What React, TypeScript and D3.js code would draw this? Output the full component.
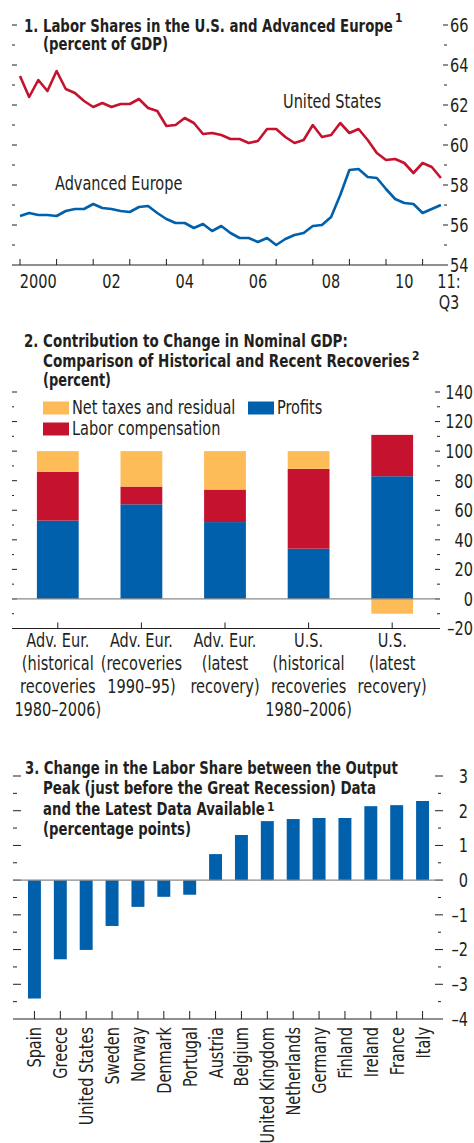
import * as d3 from 'd3'
import { useLayoutEffect, useRef, useState } from 'react'
import type { CSSProperties, ReactNode } from 'react'

const FONT = "'Liberation Sans Narrow', 'Arial Narrow', 'DejaVu Sans Condensed', Roboto, sans-serif"
const SQUEEZE = 0.85

const BLUE = '#0060ab'
const RED = '#c5122f'
const GOLD = '#fdbc57'
const ZERO = '#8a8a8a'
const INK = '#231f20'

// 1. labor shares, quarterly 2000:Q1 – 2011:Q3
const usLaborShare = [
	63.45, 62.4, 63.25, 62.7, 63.7, 62.8, 62.6, 62.2, 61.9, 62.1, 61.9, 62.05,
	62.05, 62.3, 61.85, 61.7, 60.95, 61.0, 61.35, 61.1, 60.55, 60.6, 60.5, 60.3,
	60.3, 60.1, 60.2, 60.8, 60.8, 60.4, 60.1, 60.25, 61.0, 60.4, 60.5, 61.1,
	60.6, 60.8, 60.25, 59.6, 59.25, 59.3, 59.1, 58.6, 59.1, 58.9, 58.35,
]
const europeLaborShare = [
	56.45, 56.6, 56.5, 56.5, 56.45, 56.7, 56.8, 56.8, 57.05, 56.85, 56.8, 56.7,
	56.65, 56.9, 56.95, 56.6, 56.3, 56.1, 56.1, 55.85, 56.05, 55.7, 55.95, 55.6,
	55.35, 55.35, 55.15, 55.35, 55.0, 55.3, 55.5, 55.6, 55.95, 56.0, 56.4, 57.5,
	58.75, 58.8, 58.4, 58.35, 57.8, 57.3, 57.1, 57.05, 56.6, 56.8, 57.0,
]
const firstYear = 2000
const yearLabels = ['2000', '', '02', '', '04', '', '06', '', '08', '', '10']
const shareTicks = [54, 56, 58, 60, 62, 64, 66]

// 2. contribution to change in nominal GDP
const recoveryLabels = [
	['Adv. Eur.', '(historical', 'recoveries', '1980–2006)'],
	['Adv. Eur.', '(recoveries', '1990–95)'],
	['Adv. Eur.', '(latest', 'recovery)'],
	['U.S.', '(historical', 'recoveries', '1980–2006)'],
	['U.S.', '(latest', 'recovery)'],
]
const profits = [53, 64, 52, 34, 83]
const laborCompensation = [33, 12, 22, 54, 28]
const netTaxes = [14, 24, 26, 12, -10]
const contribTicks = [-20, 0, 20, 40, 60, 80, 100, 120, 140]

// 3. change in labor share
const countries = [
	'Spain', 'Greece', 'United States', 'Sweden', 'Norway', 'Denmark', 'Portugal',
	'Austria', 'Belgium', 'United Kingdom', 'Netherlands', 'Germany', 'Finland',
	'Ireland', 'France', 'Italy',
]
const shareChange = [
	-3.41, -2.28, -2.01, -1.32, -0.77, -0.48, -0.42, 0.75, 1.3, 1.7, 1.76, 1.79,
	1.79, 2.13, 2.16, 2.28,
]
const changeTicks = [-4, -3, -2, -1, 0, 1, 2, 3]

const txt: CSSProperties = { fontFamily: FONT, fontSize: 19, fill: INK }
const bold: CSSProperties = { fontFamily: FONT, fontSize: 17.5, fontWeight: 700, fill: INK }

// plain label, squeezed horizontally to look like the condensed original
function Label({
	x,
	y,
	anchor = 'start',
	rotate = false,
	dy,
	children,
}: {
	x: number
	y: number
	anchor?: 'start' | 'middle' | 'end'
	rotate?: boolean
	dy?: string
	children: ReactNode
}) {
	return (
		<text
			transform={`translate(${x},${y})${rotate ? ' rotate(-90)' : ''} scale(${SQUEEZE},1)`}
			textAnchor={anchor}
			dy={dy}
			style={txt}
		>
			{children}
		</text>
	)
}

// title line, measured and squeezed to the width seen in the original
function FitText({ x, y, width, children }: { x: number; y: number; width: number; children: string }) {
	const ref = useRef<SVGTextElement>(null)
	const [k, setK] = useState(SQUEEZE)
	useLayoutEffect(() => {
		const w = ref.current?.getComputedTextLength() ?? 0
		if (w > 0) setK(width / w)
	}, [width, children])
	return (
		<text ref={ref} transform={`translate(${x},${y}) scale(${k},1)`} style={bold}>
			{children}
		</text>
	)
}

type TitleLine = { t: string; x: number; y: number; w: number; sup?: string; supDy?: number }

function Title({ lines }: { lines: TitleLine[] }) {
	return (
		<g>
			{lines.map((l, i) => (
				<g key={i}>
					<FitText x={l.x} y={l.y} width={l.w}>
						{l.t}
					</FitText>
					{l.sup && (
						<text x={l.x + l.w + 2} y={l.y + (l.supDy ?? -8)} style={{ ...bold, fontSize: 12 }}>
							{l.sup}
						</text>
					)}
				</g>
			))}
		</g>
	)
}

function LaborShares() {
	const x = d3.scaleLinear().domain([firstYear, firstYear + 12]).range([20, 459.2])
	const y = d3.scaleLinear().domain([54, 66]).range([265, 25])
	const line = d3
		.line<number>()
		.x((_, i) => x(firstYear + i / 4))
		.y((d) => y(d))

	const minor = d3.range(55, 67)
	const years = d3.range(firstYear, firstYear + 12)

	return (
		<g>
			{minor.map((v) => (
				<g key={v} stroke={INK} strokeWidth={1}>
					<line x1={12} x2={v % 2 === 0 ? 17 : 15} y1={y(v)} y2={y(v)} />
					<line x1={v % 2 === 0 ? 443 : 444} x2={v % 2 === 0 ? 448 : 447} y1={y(v)} y2={y(v)} />
				</g>
			))}
			{shareTicks.map((v) => (
				<Label key={v} x={450} y={y(v)} dy='0.36em'>
					{v}
				</Label>
			))}

			<Title
				lines={[
					{ t: '1. Labor Shares in the U.S. and Advanced Europe', x: 24, y: 32, w: 369, sup: '1', supDy: -10 },
					{ t: '(percent of GDP)', x: 43, y: 50, w: 125 },
				]}
			/>

			<path d={line(usLaborShare) ?? ''} fill='none' stroke={RED} strokeWidth={2.6} strokeLinejoin='round' />
			<path d={line(europeLaborShare) ?? ''} fill='none' stroke={BLUE} strokeWidth={2.6} strokeLinejoin='round' />

			<Label x={283} y={108}>United States</Label>
			<Label x={55} y={190}>Advanced Europe</Label>

			<line x1={12} x2={448} y1={y(54)} y2={y(54)} stroke={INK} strokeWidth={1} />
			{years.map((yr) => (
				<line key={yr} x1={x(yr)} x2={x(yr)} y1={y(54) - 6} y2={y(54)} stroke={INK} strokeWidth={1} />
			))}
			{yearLabels.map((l, i) =>
				l ? (
					<Label key={i} x={x(firstYear + i + 0.5)} y={288} anchor='middle'>
						{l}
					</Label>
				) : null,
			)}
			<Label x={449} y={288} anchor='middle'>11:</Label>
			<Label x={449} y={309} anchor='middle'>Q3</Label>
		</g>
	)
}

function Contributions() {
	const idx = recoveryLabels.map((_, i) => String(i))
	const x = d3.scaleBand().domain(idx).range([16, 434]).paddingInner(0.5).paddingOuter(0.25)
	const y = d3.scaleLinear().domain([-20, 140]).range([628.5, 392])

	const rows = idx.map((k, i) => ({
		key: k,
		profits: profits[i],
		labor: laborCompensation[i],
		taxes: netTaxes[i],
	}))
	const series = d3
		.stack<(typeof rows)[number]>()
		.keys(['profits', 'labor', 'taxes'])
		.offset(d3.stackOffsetDiverging)(rows)
	const colors: Record<string, string> = { profits: BLUE, labor: RED, taxes: GOLD }

	const minor = d3.range(-10, 141, 10)

	return (
		<g>
			<Title
				lines={[
					{ t: '2. Contribution to Change in Nominal GDP:', x: 24, y: 347, w: 324 },
					{ t: 'Comparison of Historical and Recent Recoveries', x: 43, y: 367, w: 367, sup: '2', supDy: -7 },
					{ t: '(percent)', x: 43, y: 386, w: 68 },
				]}
			/>

			{minor.map((v) => (
				<g key={v} stroke={INK} strokeWidth={1}>
					<line x1={12} x2={v % 20 === 0 ? 17 : 14} y1={y(v)} y2={y(v)} />
					<line x1={v % 20 === 0 ? 435 : 437} x2={440} y1={y(v)} y2={y(v)} />
				</g>
			))}
			{contribTicks.map((v) => (
				<Label key={v} x={473} y={y(v)} dy='0.36em' anchor='end'>
					{v < 0 ? `–${-v}` : v}
				</Label>
			))}

			<rect x={43} y={401.5} width={26} height={13} fill={GOLD} />
			<Label x={72} y={413.5}>Net taxes and residual</Label>
			<rect x={248} y={401.5} width={26} height={13} fill={BLUE} />
			<Label x={277} y={413.5}>Profits</Label>
			<rect x={43} y={422.5} width={26} height={13} fill={RED} />
			<Label x={72} y={434.5}>Labor compensation</Label>

			{series.map((s) =>
				s.map((d, i) => (
					<rect
						key={`${s.key}-${i}`}
						x={x(d.data.key)}
						width={x.bandwidth()}
						y={y(Math.max(d[0], d[1]))}
						height={Math.abs(y(d[0]) - y(d[1]))}
						fill={colors[s.key]}
					/>
				)),
			)}

			<line x1={12} x2={440} y1={y(0)} y2={y(0)} stroke={ZERO} strokeWidth={1.2} />
			<line x1={12} x2={440} y1={y(-20)} y2={y(-20)} stroke={INK} strokeWidth={1} />
			{idx.map((k, i) => {
				const cx = x(k)! + x.bandwidth() / 2
				return (
					<g key={k}>
						<line x1={cx} x2={cx} y1={y(-20) - 6} y2={y(-20)} stroke={INK} strokeWidth={1} />
						{recoveryLabels[i].map((t, j) => (
							<Label key={j} x={cx} y={647 + j * 23} anchor='middle'>
								{t}
							</Label>
						))}
					</g>
				)
			})}
		</g>
	)
}

function ShareChange() {
	const x = d3.scaleBand().domain(countries).range([21.5, 435.5]).paddingInner(0.5).paddingOuter(0.25)
	const y = d3.scaleLinear().domain([-4, 3]).range([1019, 776])
	const minor = d3.range(-3.5, 3.01, 0.5)

	return (
		<g>
			<Title
				lines={[
					{ t: '3. Change in the Labor Share between the Output', x: 25, y: 774, w: 373 },
					{ t: 'Peak (just before the Great Recession) Data', x: 43, y: 794, w: 333 },
					{ t: 'and the Latest Data Available', x: 43, y: 815, w: 222, sup: '1', supDy: -4 },
					{ t: '(percentage points)', x: 43, y: 835, w: 148 },
				]}
			/>

			{minor.map((v) => {
				const major = Number.isInteger(v)
				return (
					<g key={v} stroke={INK} strokeWidth={1}>
						<line x1={13} x2={major ? 21 : 17} y1={y(v)} y2={y(v)} />
						<line x1={major ? 435 : 438} x2={major ? 443 : 441} y1={y(v)} y2={y(v)} />
					</g>
				)
			})}
			{changeTicks.map((v) => (
				<Label key={v} x={468} y={y(v)} dy='0.36em' anchor='end'>
					{v < 0 ? `–${-v}` : v}
				</Label>
			))}

			{countries.map((c, i) => {
				const v = shareChange[i]
				return (
					<rect
						key={c}
						x={x(c)}
						width={x.bandwidth()}
						y={y(Math.max(0, v))}
						height={Math.abs(y(v) - y(0))}
						fill={BLUE}
					/>
				)
			})}

			<line x1={13} x2={443} y1={y(0)} y2={y(0)} stroke={ZERO} strokeWidth={1.2} />
			<line x1={13} x2={443} y1={y(-4)} y2={y(-4)} stroke={INK} strokeWidth={1} />
			{countries.map((c) => {
				const cx = x(c)! + x.bandwidth() / 2
				return (
					<g key={c}>
						<line x1={cx} x2={cx} y1={y(-4) - 8} y2={y(-4)} stroke={INK} strokeWidth={1} />
						<Label x={cx + 7} y={1027} anchor='end' rotate>
							{c}
						</Label>
					</g>
				)
			})}
		</g>
	)
}

export default function App() {
	return (
		<svg
			width={474}
			height={1143}
			viewBox='0 0 474 1143'
			style={{ position: 'absolute', left: 0, top: 0, background: '#fff' }}
		>
			<rect width={474} height={1143} fill='#fff' />
			<LaborShares />
			<Contributions />
			<ShareChange />
		</svg>
	)
}
